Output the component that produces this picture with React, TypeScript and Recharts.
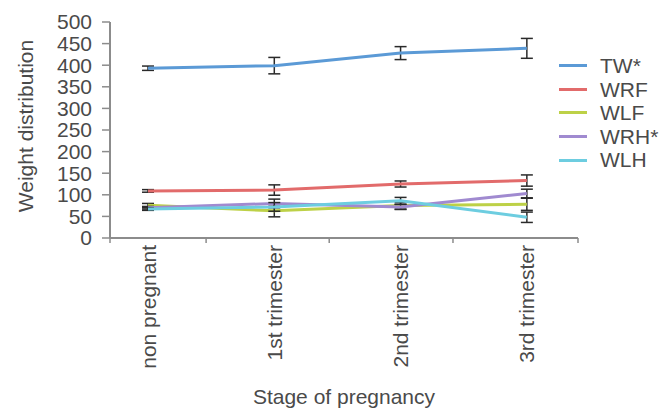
import React from 'react';
import { LineChart, Line, XAxis, YAxis, ErrorBar, Label } from 'recharts';

// Stages along the x axis (plotted at index 0..3)
const stages = ['non pregnant', '1st trimester', '2nd trimester', '3rd trimester'];

// Mean weights per stage
const tw = [393, 399, 428, 439];
const wrf = [109, 111, 125, 133];
const wlf = [76, 63, 75, 78];
const wrh = [70, 80, 72, 103];
const wlh = [67, 72, 86, 48];

// Error (± SD) per stage
const twErr = [5, 19, 15, 23];
const wrfErr = [3, 12, 7, 13];
const wlfErr = [4, 14, 8, 14];
const wrhErr = [3, 10, 6, 10];
const wlhErr = [3, 10, 8, 12];

const yTicks = [0, 50, 100, 150, 200, 250, 300, 350, 400, 450, 500];
// Minor tick positions on the x axis (index units)
const minorTicks = [-0.301, 0.46, 1.435, 2.415, 3.405];

const series = [
  { key: 'TW', name: 'TW*', color: '#5b9ad6' },
  { key: 'WRF', name: 'WRF', color: '#e26b6b' },
  { key: 'WLF', name: 'WLF', color: '#bdd147' },
  { key: 'WRH', name: 'WRH*', color: '#a08ad0' },
  { key: 'WLH', name: 'WLH', color: '#6dcde0' },
];

const rows = stages.map((stage, i) => ({
  idx: i,
  stage,
  TW: tw[i],
  TWErr: twErr[i],
  WRF: wrf[i],
  WRFErr: wrfErr[i],
  WLF: wlf[i],
  WLFErr: wlfErr[i],
  WRH: wrh[i],
  WRHErr: wrhErr[i],
  WLH: wlh[i],
  WLHErr: wlhErr[i],
}));

const FONT = '"Liberation Sans", Arial, Helvetica, sans-serif';
const TEXT = '#4a4a4a';
const AXIS = '#8c8c8c';

const StageTick = (props: any) => {
  const { x, y, payload } = props;
  const v = payload.value;
  const isStage = Number.isInteger(v) && v >= 0 && v < stages.length;
  if (isStage) {
    return (
      <text
        transform={`translate(${x},${y + 7}) rotate(-90)`}
        textAnchor="end"
        dominantBaseline="central"
        fontSize={21}
        fontFamily={FONT}
        fill={TEXT}
      >
        {stages[v]}
      </text>
    );
  }
  return <line x1={x} y1={y} x2={x} y2={y + 5} stroke={AXIS} strokeWidth={1.5} />;
};

// Series key shown to the right of the plot
const LegendList = () => (
  <div
    style={{
      position: 'absolute',
      left: 559,
      top: 54,
      fontFamily: FONT,
      fontSize: 21,
      color: TEXT,
    }}
  >
    {series.map((s) => (
      <div key={s.key} style={{ display: 'flex', alignItems: 'center', height: 23.6 }}>
        <span style={{ display: 'inline-block', width: 28, height: 3, background: s.color, marginRight: 13 }} />
        <span style={{ lineHeight: '23.6px' }}>{s.name}</span>
      </div>
    ))}
  </div>
);

export default function App() {
  return (
    <div style={{ position: 'absolute', left: 0, top: 0, width: 669, height: 408, background: '#fff' }}>
      <LineChart
        width={669}
        height={408}
        data={rows}
        margin={{ top: 22, right: 91, bottom: 0, left: 0 }}
      >
        <XAxis
          dataKey="idx"
          type="number"
          domain={[-0.301, 3.405]}
          allowDataOverflow
          ticks={[...minorTicks, 0, 1, 2, 3].sort((a, b) => a - b)}
          interval={0}
          height={170}
          tick={<StageTick />}
          tickLine={false}
          tickSize={0}
          tickMargin={0}
          axisLine={{ stroke: AXIS, strokeWidth: 2 }}
        >
          <Label
            content={(p: any) => {
              const vb = p.viewBox;
              return (
                <text
                  x={vb.x + vb.width / 2}
                  y={404}
                  textAnchor="middle"
                  fontSize={21}
                  fontFamily={FONT}
                  fill={TEXT}
                >
                  Stage of pregnancy
                </text>
              );
            }}
          />
        </XAxis>
        <YAxis
          width={110}
          domain={[0, 500]}
          ticks={yTicks}
          interval={0}
          tick={{ fontSize: 21, fontFamily: FONT, fill: TEXT }}
          tickSize={8}
          tickMargin={10}
          tickLine={{ stroke: AXIS, strokeWidth: 1.5 }}
          axisLine={{ stroke: AXIS, strokeWidth: 2 }}
        >
          <Label
            content={(p: any) => {
              const vb = p.viewBox;
              const cy = vb.y + vb.height / 2 - 4;
              return (
                <text
                  transform={`translate(25,${cy}) rotate(-90)`}
                  textAnchor="middle"
                  dominantBaseline="central"
                  fontSize={21}
                  fontFamily={FONT}
                  fill={TEXT}
                >
                  Weight distribution
                </text>
              );
            }}
          />
        </YAxis>
        {series.map((s) => (
          <Line
            key={s.key}
            type="linear"
            dataKey={s.key}
            name={s.name}
            stroke={s.color}
            strokeWidth={3}
            dot={false}
            isAnimationActive={false}
          >
            <ErrorBar dataKey={`${s.key}Err`} width={6} stroke="#2a2a2a" strokeWidth={1.5} direction="y" />
          </Line>
        ))}
      </LineChart>
      <LegendList />
    </div>
  );
}
